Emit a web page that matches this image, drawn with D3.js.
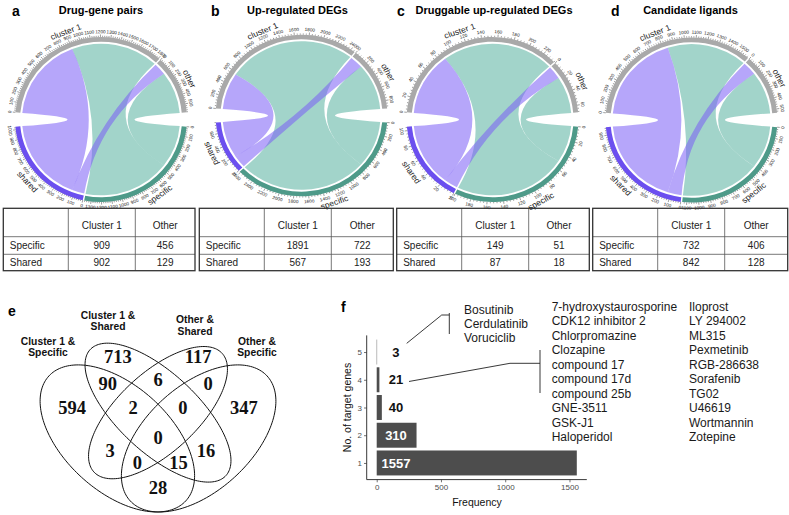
<!DOCTYPE html>
<html><head><meta charset="utf-8">
<script src="https://cdn.jsdelivr.net/npm/d3@7"></script>
<style>body{margin:0;background:#fff}svg{display:block}</style>
</head><body>
<svg id="fig" width="789" height="515" font-family="'Liberation Sans',Arial,sans-serif"></svg>
<script>
// ---------------- DATA ----------------
const panelLetters = ["a", "b", "c", "d"];
const panelTitles = ["Drug-gene pairs", "Up-regulated DEGs", "Druggable up-regulated DEGs", "Candidate ligands"];
const sectorNames = ["cluster 1", "other", "specific", "shared"];
const specificCluster1 = [909, 1891, 149, 732];
const specificOther    = [456, 722, 51, 406];
const sharedCluster1   = [902, 567, 87, 842];
const sharedOther      = [129, 193, 18, 128];
const axisMajorStep    = [100, 200, 20, 100];
const tableColumns = ["Cluster 1", "Other"];
const tableRows = ["Specific", "Shared"];

const vennSetLabels = [["Cluster 1 &", "Specific"], ["Cluster 1 &", "Shared"], ["Other &", "Shared"], ["Other &", "Specific"]];
const vennRegions = ["A", "B", "C", "D", "AB", "BC", "CD", "ABC", "BCD", "ABCD", "AC", "ACD", "ABD", "BD", "AD"];
const vennCounts  = [594, 713, 117, 347, 90, 6, 0, 2, 0, 0, 3, 0, 15, 16, 28];

const targetGenes = [1, 2, 3, 4, 5];
const drugFrequency = [1557, 310, 40, 21, 3];
const freqTicks = [0, 500, 1000, 1500];
const drugsWith5 = ["Bosutinib", "Cerdulatinib", "Voruciclib"];
const drugsWith4 = ["7-hydroxystaurosporine", "CDK12 inhibitor 2", "Chlorpromazine", "Clozapine", "compound 17",
  "compound 17d", "compound 25b", "GNE-3511", "GSK-J1", "Haloperidol",
  "Iloprost", "LY 294002", "ML315", "Pexmetinib", "RGB-286638", "Sorafenib", "TG02", "U46619", "Wortmannin", "Zotepine"];

// ---------------- DRAW ----------------
const svg = d3.select("#fig");
const DEG = Math.PI / 180;

// ---- chord panels ----
const chordLayout = [
  {cx: 101, cy: 119.5, sy: 0.96}, {cx: 301.5, cy: 115.5, sy: 0.94},
  {cx: 492.5, cy: 119.5, sy: 0.96}, {cx: 691.5, cy: 120, sy: 0.96}];
const titleX = [101, 297.5, 494, 690.5];
const letterX = [12, 211, 397, 611];
const R_OUT = 86, R_IN = 81, R_LINK = 79, BIG_GAP = 10, SMALL_GAP = 1;
const ringColor = {"cluster 1": "#A9A9A9", "other": "#A9A9A9", "specific": "#4E9A89", "shared": "#6B4FEF"};
const linkColor = {specific: "rgba(70,170,150,0.5)", shared: "rgba(122,92,246,0.55)"};

function pt(a, r) { return [r * Math.sin(a * DEG), -r * Math.cos(a * DEG)]; }
function ribbon(a0, a1, b0, b1, r) {
  const P = a => pt(a, r);
  const ctrl = (x, y) => { const p = P(x), q = P(y), k = -0.15; return [k * (p[0] + q[0]) / 2, k * (p[1] + q[1]) / 2]; };
  const large = (s, e) => (e - s) > 180 ? 1 : 0;
  return `M${P(a0)}A${r},${r} 0 ${large(a0, a1)} 1 ${P(a1)}Q${ctrl(a1, b0)} ${P(b0)}` +
         `A${r},${r} 0 ${large(b0, b1)} 1 ${P(b1)}Q${ctrl(b1, a0)} ${P(a0)}Z`;
}
function textRot(a) { const n = ((a % 360) + 360) % 360; return (n > 90 && n < 270) ? a - 180 : a; }

panelLetters.forEach((letter, i) => {
  const L = chordLayout[i];
  svg.append("text").attr("x", letterX[i]).attr("y", 15.5).attr("font-size", 14).attr("font-weight", "bold").text(letter);
  svg.append("text").attr("x", titleX[i]).attr("y", 13.5).attr("text-anchor", "middle")
    .attr("font-size", 11).attr("font-weight", "bold").text(panelTitles[i]);

  const sc = specificCluster1[i], so = specificOther[i], hc = sharedCluster1[i], ho = sharedOther[i];
  const totals = {"cluster 1": sc + hc, "other": so + ho, "specific": sc + so, "shared": hc + ho};
  const unit = (180 - BIG_GAP - SMALL_GAP) / (totals["cluster 1"] + totals["other"]);
  const s1 = -90 + BIG_GAP / 2, e1 = s1 + totals["cluster 1"] * unit;
  const s3 = 90 + BIG_GAP / 2, e3 = s3 + totals["specific"] * unit;
  const ranges = {"cluster 1": [s1, e1], "other": [e1 + SMALL_GAP, 90 - BIG_GAP / 2],
                  "specific": [s3, e3], "shared": [e3 + SMALL_GAP, 270 - BIG_GAP / 2]};
  const scale = {};
  sectorNames.forEach(n => scale[n] = d3.scaleLinear().domain([0, totals[n]]).range(ranges[n]));

  const g = svg.append("g").attr("transform", `translate(${L.cx},${L.cy}) scale(1,${L.sy})`);

  // links
  const C = scale["cluster 1"], O = scale["other"], S = scale["specific"], H = scale["shared"];
  g.append("path").attr("d", ribbon(C(hc), C(hc + sc), S(so), S(so + sc), R_LINK)).attr("fill", linkColor.specific);
  g.append("path").attr("d", ribbon(O(ho), O(ho + so), S(0), S(so), R_LINK)).attr("fill", linkColor.specific);
  g.append("path").attr("d", ribbon(C(0), C(hc), H(ho), H(ho + hc), R_LINK)).attr("fill", linkColor.shared);
  g.append("path").attr("d", ribbon(O(0), O(ho), H(0), H(ho), R_LINK)).attr("fill", linkColor.shared);

  // rings, ticks, labels
  const arc = d3.arc().innerRadius(R_IN).outerRadius(R_OUT);
  const major = axisMajorStep[i], minor = major / 5;
  sectorNames.forEach(n => {
    const [a0, a1] = ranges[n];
    g.append("path").attr("d", arc({startAngle: a0 * DEG, endAngle: a1 * DEG})).attr("fill", ringColor[n]);
    const ticks = d3.range(0, totals[n] + 1e-9, minor);
    ticks.forEach(v => {
      const isMajor = Math.abs(v / major - Math.round(v / major)) < 1e-6;
      const a = scale[n](v);
      const p0 = pt(a, R_OUT), p1 = pt(a, R_OUT + (isMajor ? 2.6 : 1.3));
      g.append("line").attr("x1", p0[0]).attr("y1", p0[1]).attr("x2", p1[0]).attr("y2", p1[1])
        .attr("stroke", "#222").attr("stroke-width", 0.45);
      if (isMajor) {
        const p = pt(a, R_OUT + 5.6);
        g.append("text").attr("transform", `translate(${p}) rotate(${textRot(a)})`)
          .attr("text-anchor", "middle").attr("dy", "0.35em").attr("font-size", 4.7).attr("fill", "#222")
          .text(Math.round(v));
      }
    });
    const am = (a0 + a1) / 2, pn = pt(am, R_OUT + 12);
    g.append("text").attr("transform", `translate(${pn}) rotate(${textRot(am)})`)
      .attr("text-anchor", "middle").attr("dy", "0.35em").attr("font-size", 8.6).attr("fill", "#222").text(n);
  });
});

// ---- tables ----
const tableX = [3.3, 199.3, 396.7, 592.7], tableW = [191.7, 194, 192.6, 195];
const rowY = [208.3, 236.7, 254.3, 270.7];
panelLetters.forEach((l, i) => {
  const x0 = tableX[i], w = tableW[i];
  const colX = [x0, x0 + 65, x0 + 132, x0 + w];
  const tg = svg.append("g");
  rowY.slice(1, 3).forEach(y => tg.append("line").attr("x1", x0).attr("x2", x0 + w).attr("y1", y).attr("y2", y).attr("stroke", "#555").attr("stroke-width", 0.8));
  colX.slice(1, 3).forEach(x => tg.append("line").attr("x1", x).attr("x2", x).attr("y1", rowY[0]).attr("y2", rowY[3]).attr("stroke", "#555").attr("stroke-width", 0.8));
  tg.append("rect").attr("x", x0).attr("y", rowY[0]).attr("width", w).attr("height", rowY[3] - rowY[0])
    .attr("fill", "none").attr("stroke", "#333").attr("stroke-width", 1.3);
  const yc = [(rowY[0] + rowY[1]) / 2 + 3, (rowY[1] + rowY[2]) / 2, (rowY[2] + rowY[3]) / 2];
  tableColumns.forEach((c, j) => tg.append("text").attr("x", (colX[j + 1] + colX[j + 2]) / 2).attr("y", yc[0]).attr("dy", "0.35em")
    .attr("text-anchor", "middle").attr("font-size", 10).attr("fill", "#222").text(c));
  const vals = [[specificCluster1[i], specificOther[i]], [sharedCluster1[i], sharedOther[i]]];
  tableRows.forEach((r, k) => {
    tg.append("text").attr("x", x0 + 6.5).attr("y", yc[k + 1]).attr("dy", "0.35em").attr("font-size", 10).attr("fill", "#222").text(r);
    vals[k].forEach((v, j) => tg.append("text").attr("x", (colX[j + 1] + colX[j + 2]) / 2).attr("y", yc[k + 1]).attr("dy", "0.35em")
      .attr("text-anchor", "middle").attr("font-size", 10).attr("fill", "#222").text(v));
  });
});

// ---- Venn (panel e) ----
svg.append("text").attr("x", 8).attr("y", 316).attr("font-size", 14).attr("font-weight", "bold").text("e");
const vx = d3.scaleLinear().domain([0, 1]).range([158 - 135.5, 158 + 135.5]);
const vy = d3.scaleLinear().domain([0, 1]).range([559.7, 559.7 - 258]);
const ellipses = [
  {x: 0.35, y: 0.47, a: 0.35, b: 0.20, rot: 135},
  {x: 0.50, y: 0.57, a: 0.35, b: 0.15, rot: 135},
  {x: 0.50, y: 0.57, a: 0.33, b: 0.15, rot: 45},
  {x: 0.65, y: 0.47, a: 0.35, b: 0.20, rot: 45}];
const eLine = d3.line().x(d => vx(d[0])).y(d => vy(d[1])).curve(d3.curveLinearClosed);
ellipses.forEach(e => {
  const c = Math.cos(e.rot * DEG), s = Math.sin(e.rot * DEG);
  const pts = d3.range(0, 360, 2).map(t => {
    const ex = e.a * Math.cos(t * DEG), ey = e.b * Math.sin(t * DEG);
    return [e.x + ex * c - ey * s, e.y + ex * s + ey * c];
  });
  svg.append("path").attr("d", eLine(pts)).attr("fill", "none").attr("stroke", "#111").attr("stroke-width", 1);
});
const regionPos = {A: [0.183, 0.588], B: [0.352, 0.786], C: [0.648, 0.786], D: [0.817, 0.588],
  AB: [0.315, 0.681], BC: [0.5, 0.697], CD: [0.685, 0.681], ABC: [0.408, 0.588], BCD: [0.592, 0.588],
  ABCD: [0.5, 0.475], AC: [0.323, 0.425], ACD: [0.424, 0.378], ABD: [0.576, 0.378], BD: [0.677, 0.425], AD: [0.5, 0.28]};
vennRegions.forEach((r, k) => {
  svg.append("text").attr("x", vx(regionPos[r][0])).attr("y", vy(regionPos[r][1])).attr("dy", "0.35em")
    .attr("text-anchor", "middle").attr("font-family", "'Liberation Serif','Times New Roman',serif")
    .attr("font-size", 18.5).attr("font-weight", "bold").attr("fill", "#111").text(vennCounts[k]);
});
const setLabelPos = [[48, 344.5], [108, 318.5], [195, 323], [257, 344.5]];
vennSetLabels.forEach((lines, k) => {
  lines.forEach((t, j) => svg.append("text").attr("x", setLabelPos[k][0]).attr("y", setLabelPos[k][1] + j * 11.7)
    .attr("text-anchor", "middle").attr("font-size", 10.3).attr("font-weight", "bold").attr("fill", "#111").text(t));
});

// ---- Bar chart (panel f) ----
svg.append("text").attr("x", 341).attr("y", 312).attr("font-size", 14).attr("font-weight", "bold").text("f");
const x = d3.scaleLinear().domain([-77.85, 1634.85]).range([366.7, 586.8]);
const y = d3.scaleLinear().domain([0.4, 5.6]).range([479.6, 335.4]);
const bandH = (y(0) - y(0.9));
const bg = svg.append("g");
targetGenes.forEach((t, k) => {
  const v = drugFrequency[k];
  bg.append("rect").attr("x", x(0)).attr("y", y(t) - bandH / 2).attr("width", x(v) - x(0)).attr("height", bandH).attr("fill", "#4D4D4D");
  bg.append("text").attr("x", x(150)).attr("y", y(t)).attr("dy", "0.36em").attr("text-anchor", "middle")
    .attr("font-size", 13).attr("font-weight", "bold").attr("fill", v > 200 ? "#fff" : "#111").text(v);
});
const xAxis = d3.axisBottom(x).tickValues(freqTicks).tickSize(2.7).tickPadding(2).tickFormat(d3.format("d"));
const xa = svg.append("g").attr("transform", `translate(0,${y(0.4)})`).call(xAxis);
xa.select(".domain").attr("d", `M${x.range()[0]},0H${x.range()[1]}`).attr("stroke", "#222").attr("stroke-width", 0.9);
const yAxis = d3.axisLeft(y).tickValues(targetGenes).tickSize(2.7).tickPadding(2).tickFormat(d3.format("d"));
const ya = svg.append("g").attr("transform", `translate(${x.range()[0]},0)`).call(yAxis);
ya.select(".domain").attr("d", `M0,${y.range()[0]}V${y.range()[1]}`).attr("stroke", "#222").attr("stroke-width", 0.9);
[xa, ya].forEach(a => {
  a.attr("font-family", null).attr("font-size", null);
  a.selectAll(".tick line").attr("stroke", "#333").attr("stroke-width", 0.7);
  a.selectAll(".tick text").attr("font-size", 8).attr("fill", "#4D4D4D");
});
svg.append("text").attr("x", 477).attr("y", 502).attr("dy", "0.35em").attr("text-anchor", "middle").attr("font-size", 10.5).attr("fill", "#111").text("Frequency");
svg.append("text").attr("transform", `translate(347,${(y.range()[0] + y.range()[1]) / 2}) rotate(-90)`).attr("dy", "0.35em")
  .attr("text-anchor", "middle").attr("font-size", 10.5).attr("fill", "#111").text("No. of target genes");

// annotation connectors
const ann = svg.append("g").attr("fill", "none").attr("stroke", "#222").attr("stroke-width", 0.9);
ann.append("path").attr("d", `M406.7,${y(5) - 8.7}L441.7,315H449.3`);
ann.append("path").attr("d", "M449.3,313V334");
ann.append("path").attr("d", `M409,${y(4) + 1.7}L510,363.3H540`);
ann.append("path").attr("d", "M540,350V393");
drugsWith5.forEach((d, k) => svg.append("text").attr("x", 464).attr("y", 314 + k * 14.2).attr("font-size", 12).attr("fill", "#1a1a1a").text(d));
drugsWith4.forEach((d, k) => svg.append("text").attr("x", k < 10 ? 551.7 : 689).attr("y", 311 + (k % 10) * 14.44)
  .attr("font-size", 12).attr("fill", "#1a1a1a").text(d));
</script>
</body></html>
